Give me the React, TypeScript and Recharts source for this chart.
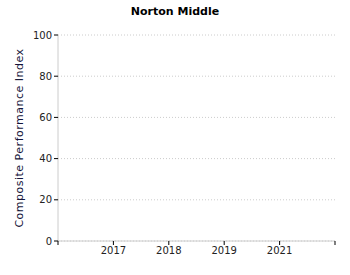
import { LineChart, Line, XAxis, YAxis, CartesianGrid } from "recharts";

const years = ["2017", "2018", "2019", "2021"];
// no values are shown in the chart for any year
const cpi: (number | null)[] = [null, null, null, null];
const yTicks = [0, 20, 40, 60, 80, 100];

const data = years.map((year, i) => ({ x: i + 1, year, cpi: cpi[i] }));

const FONT = "'DejaVu Sans', Verdana, sans-serif";

export default function App() {
  return (
    <div style={{ position: "absolute", left: 0, top: 0, width: 350, height: 275, background: "#fff" }}>
      <div
        style={{
          position: "absolute",
          left: 0,
          top: 5,
          width: 350,
          textAlign: "center",
          fontFamily: FONT,
          fontWeight: "bold",
          fontSize: 11,
          color: "#000",
        }}
      >
        Norton Middle
      </div>
      <LineChart width={350} height={275} data={data} margin={{ top: 35, right: 15, bottom: 14, left: 0 }}>
        <CartesianGrid vertical={false} stroke="#ccc" strokeDasharray="1 2" />
        <XAxis
          dataKey="x"
          type="number"
          domain={[0, 5]}
          ticks={[0, 1, 2, 3, 4, 5]}
          tickFormatter={(v: number) => years[v - 1] ?? ""}
          height={20}
          tickSize={4}
          axisLine={{ stroke: "#ccc" }}
          tickLine={{ stroke: "#000" }}
          tick={{ fontSize: 10, fill: "#222", fontFamily: FONT }}
        />
        <YAxis
          type="number"
          domain={[0, 100]}
          allowDataOverflow
          ticks={yTicks}
          width={58}
          tickSize={4}
          axisLine={{ stroke: "#ccc" }}
          tickLine={{ stroke: "#000" }}
          tick={{ fontSize: 10, fill: "#222", fontFamily: FONT }}
          label={{
            value: "Composite Performance Index",
            angle: -90,
            position: "insideLeft",
            offset: 19,
            style: { textAnchor: "middle", fontSize: 11, letterSpacing: 0.5, fill: "#14143a", fontFamily: FONT },
          }}
        />
        <Line type="linear" dataKey="cpi" stroke="#1f4e9c" isAnimationActive={false} connectNulls={false} />
      </LineChart>
    </div>
  );
}
